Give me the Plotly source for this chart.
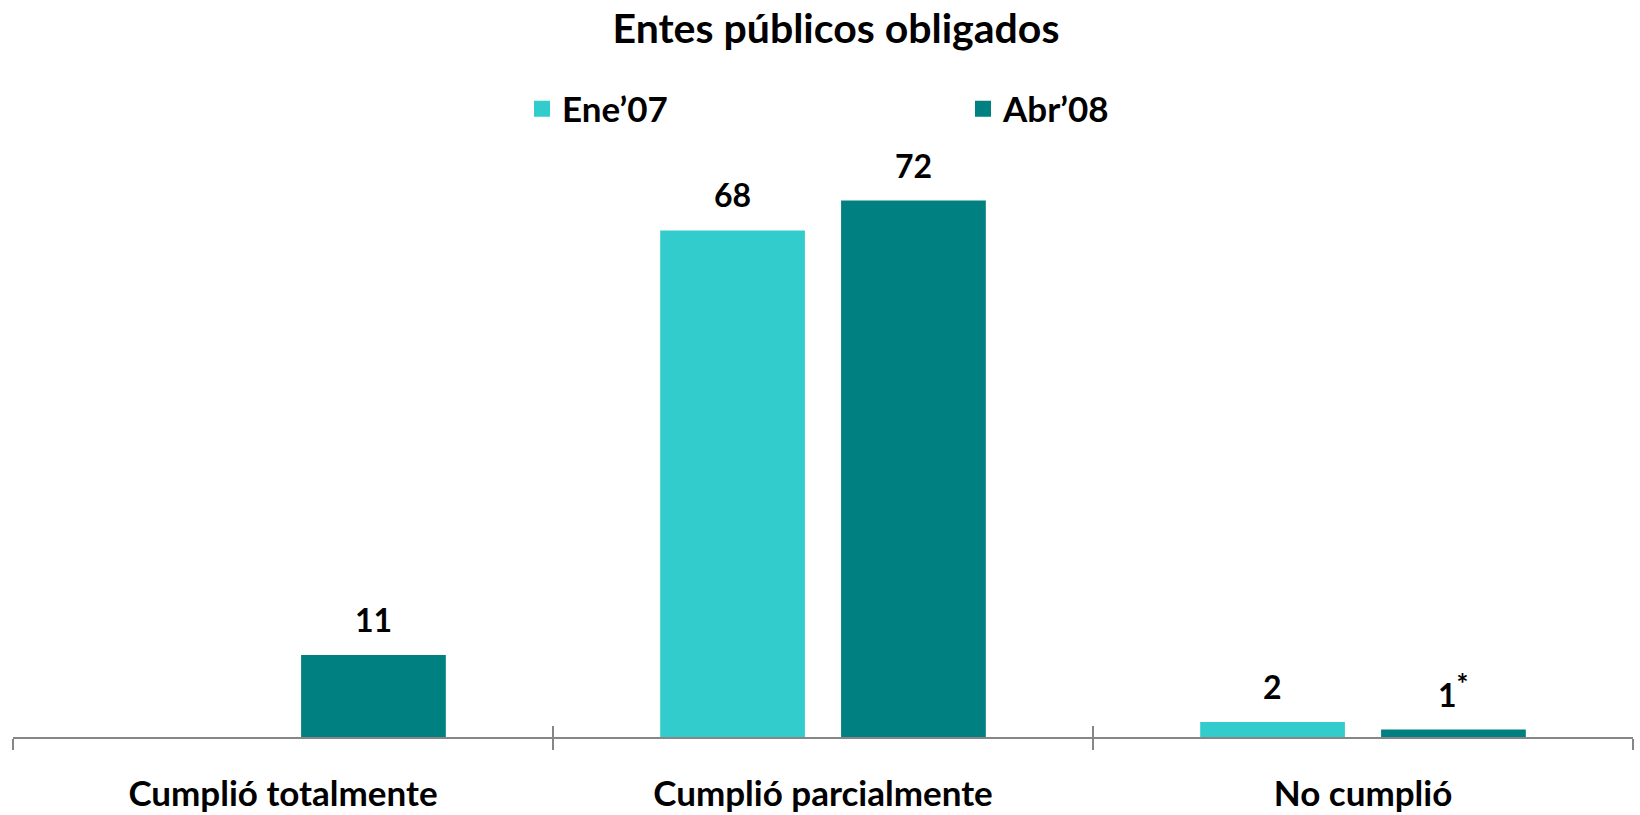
import plotly.graph_objects as go

categories = ["Cumplió totalmente", "Cumplió parcialmente", "No cumplió"]
series_names = ["Ene’07", "Abr’08"]
ene07 = [None, 68, 2]
abr08 = [11, 72, 1]
label_ene07 = ["", "68", "2"]
label_abr08 = ["11", "72", "1<sup><span style='font-size:28px'>*</span></sup>"]
colors = ["#33CCCC", "#008080"]

FONT = "Lato"
W, H = 1640, 815
fig = go.Figure()
for name, vals, col in zip(series_names, [ene07, abr08], colors):
    fig.add_trace(go.Bar(x=categories, y=vals, name=name, marker_color=col,
                         marker_line_width=0, showlegend=False, hoverinfo="skip"))
    fig.add_trace(go.Scatter(x=[None], y=[None], name=name, mode="markers",
                             marker=dict(symbol="square", size=21, color=col)))

# invisible trace to carry the overlay axis (crossing ticks)
fig.add_trace(go.Scatter(x=categories, y=[0, 0, 0], xaxis="x2", mode="markers",
                         marker=dict(opacity=0, size=1),
                         showlegend=False, hoverinfo="skip"))

offset = 0.1675
annos = []
for i, cat in enumerate(categories):
    for vals, labs, sgn in [(ene07, label_ene07, -1), (abr08, label_abr08, 1)]:
        v = vals[i]
        if v is None:
            continue
        annos.append(dict(x=i + sgn * offset, y=v, xref="x", yref="y", text=labs[i],
                          showarrow=False, yanchor="bottom", yshift=14,
                          font=dict(family=FONT, size=32, color="black", weight="bold")))

T = 141
fig.update_layout(
    width=W, height=H,
    paper_bgcolor="white", plot_bgcolor="white",
    margin=dict(l=13, r=7, t=T, b=78, autoexpand=False),
    barmode="group", bargap=0.33, bargroupgap=0.2,
    title=dict(text="<b>Entes públicos obligados</b>", x=836/W, xref="container",
               xanchor="center", y=1 - 29/H, yref="container", yanchor="middle",
               font=dict(family=FONT, size=41, color="black")),
    legend=dict(orientation="h", x=(522 - 13)/1620, xanchor="left", y=1 + (T - 109)/596,
                yanchor="middle", entrywidth=396, entrywidthmode="pixels",
                font=dict(family=FONT, size=35, color="black", weight="bold"),
                bgcolor="rgba(0,0,0,0)"),
    annotations=annos,
    xaxis=dict(type="category", categoryorder="array", categoryarray=categories,
               range=[-0.5, 2.5], showline=True, linecolor="#868686", linewidth=2,
               ticks="outside", tickson="boundaries", ticklen=11, tickwidth=2,
               tickcolor="#868686", ticklabelstandoff=25, automargin=False,
               tickfont=dict(family=FONT, size=35, color="black", weight="bold"),
               showgrid=False, zeroline=False),
    xaxis2=dict(type="category", categoryorder="array", categoryarray=categories,
                overlaying="x", anchor="y", side="bottom", range=[-0.5, 2.5],
                ticks="inside", tickson="boundaries", ticklen=11, tickwidth=2,
                tickcolor="#868686", showticklabels=False, showline=False,
                showgrid=False, zeroline=False, automargin=False),
    yaxis=dict(range=[0, 80], visible=False, showgrid=False, zeroline=False),
)

fig.write_html("out.html", config={"displayModeBar": False},
               post_script="document.body.style.margin='0px';document.body.style.overflow='hidden';")
